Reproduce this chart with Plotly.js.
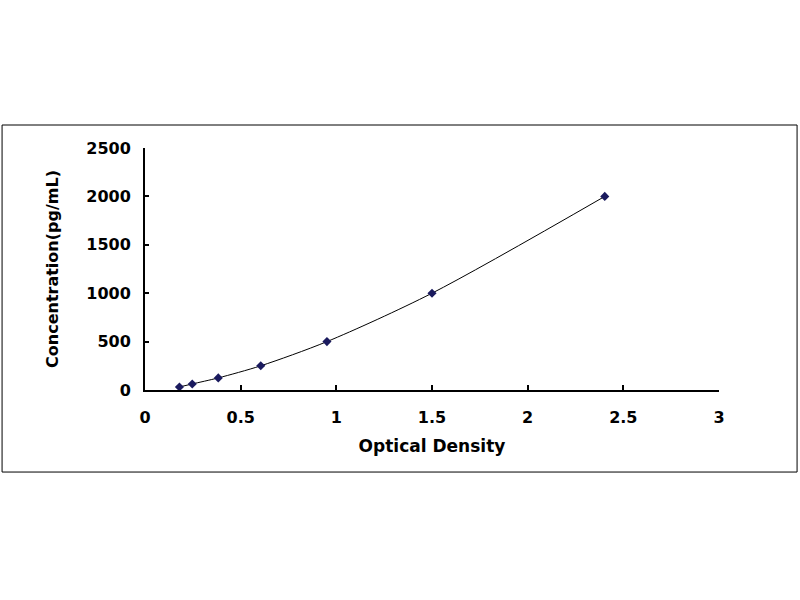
<!DOCTYPE html>
<html>
<head>
<meta charset="utf-8">
<script src="https://cdn.plot.ly/plotly-3.0.1.min.js"></script>
<style>
body { margin: 0; background: #fff; }
#plot { width: 800px; height: 600px; }
</style>
</head>
<body>
<div id="plot"></div>
<script>
// standard curve: OD vs concentration
var od = [0.18, 0.247, 0.383, 0.605, 0.951, 1.50, 2.403];
var conc = [31.25, 62.5, 125, 250, 500, 1000, 2000];

var xTicks = [0, 0.5, 1, 1.5, 2, 2.5, 3];
var xTickText = ['0', '0.5', '1', '1.5', '2', '2.5', '3'];
var yTicks = [0, 500, 1000, 1500, 2000, 2500];

var fam = 'DejaVu Sans, Arial, sans-serif';
var tickFont = { family: fam, size: 16, color: '#000', weight: 'bold' };

var curve = {
    x: od,
    y: conc,
    mode: 'lines+markers',
    type: 'scatter',
    line: { color: '#000', width: 1, shape: 'spline', smoothing: 0.8 },
    marker: { symbol: 'diamond', size: 7, color: '#1a1a5e' },
    hoverinfo: 'x+y'
};

var layout = {
    width: 800,
    height: 600,
    margin: { l: 145, r: 81, t: 148, b: 210 },
    paper_bgcolor: '#fff',
    plot_bgcolor: '#fff',
    showlegend: false,
    xaxis: {
        range: [0, 3],
        tickvals: xTicks,
        ticktext: xTickText,
        showgrid: false,
        zeroline: false,
        showline: true,
        linecolor: '#000',
        linewidth: 2,
        ticks: 'inside',
        ticklen: 5,
        tickwidth: 2,
        tickcolor: '#000',
        tickfont: tickFont,
        ticklabelstandoff: 12,
        title: { text: 'Optical Density', font: { family: fam, size: 17, color: '#000', weight: 'bold' }, standoff: 14 }
    },
    yaxis: {
        range: [0, 2500],
        tickvals: yTicks,
        showgrid: false,
        zeroline: false,
        showline: true,
        linecolor: '#000',
        linewidth: 2,
        ticks: 'inside',
        ticklen: 4,
        tickwidth: 2,
        tickcolor: '#000',
        tickfont: tickFont,
        ticklabelstandoff: 9,
        title: { text: 'Concentration(pg/mL)', font: { family: fam, size: 16, color: '#000', weight: 'bold' }, standoff: 24 }
    },
    shapes: [{
        type: 'rect',
        xref: 'paper', yref: 'paper',
        x0: -0.249, x1: 1.136,
        y0: -0.339, y1: 1.095,
        line: { color: '#000', width: 1 },
        fillcolor: 'rgba(0,0,0,0)'
    }]
};

Plotly.newPlot('plot', [curve], layout, { displayModeBar: false, staticPlot: true });
</script>
</body>
</html>
